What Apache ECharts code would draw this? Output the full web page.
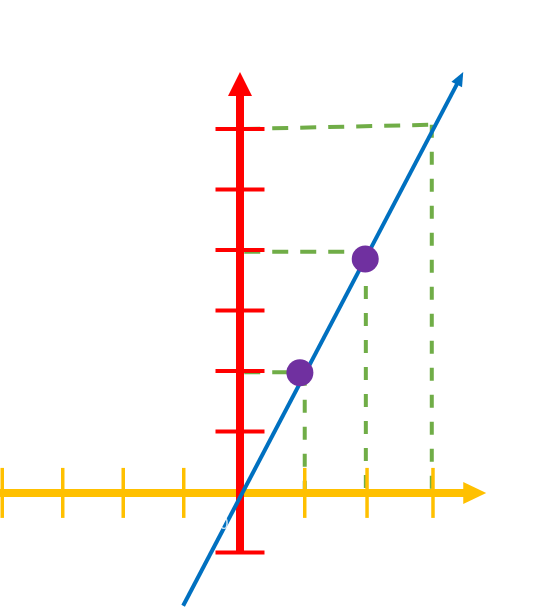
<!DOCTYPE html>
<html><head><meta charset="utf-8">
<script src="https://cdn.jsdelivr.net/npm/echarts@6/dist/echarts.min.js"></script>
<style>html,body{margin:0;padding:0;background:#fff}#c{width:548px;height:609px}</style>
</head><body><div id="c"></div>
<script>
// ---- data (in axis units) ----
const xTicks = [-3.93, -2.93, -1.93, -0.93, 1.07, 2.1, 3.19];
const yTicks = [6, 5, 4, 3, 2, 1, -1];
const xAxisLevel = -0.015;
const xAxisSeg = [[-3.97, xAxisLevel], [4.07, xAxisLevel]];      // start, arrow tip
const yAxisSeg = [[0, -1.02], [0, 6.94]];      // start, arrow tip
const blueSeg = [[-0.94, -1.88], [3.69, 6.94]]; // start, arrow tip
const points = [[0.99, 1.97], [2.07, 3.85]];
const guideH = [
  [[0.07, 1.98], [0.99, 1.98]],
  [[0.07, 3.97], [2.07, 3.97]],
  [[0.07, 6.0], [3.17, 6.07]]
];
const guideV = [
  [[1.07, 1.97], [1.07, 0]],
  [[2.08, 3.85], [2.08, 0]],
  [[3.17, 6.07], [3.17, -0.08]]
];
const originLabel = '0';

// ---- styles ----
const YELLOW = '#FFC000', RED = '#FF0000', BLUE = '#0070C0', GREEN = '#70AD47', PURPLE = '#7030A0';

function arrowSeries(seg, color, width, headLen, headW, z) {
  return {
    type: 'custom', coordinateSystem: 'cartesian2d', z: z, silent: true, clip: false,
    data: [[seg[0][0], seg[0][1], seg[1][0], seg[1][1]]],
    renderItem: function (params, api) {
      const a = api.coord([api.value(0), api.value(1)]);
      const b = api.coord([api.value(2), api.value(3)]);
      const dx = b[0] - a[0], dy = b[1] - a[1], L = Math.hypot(dx, dy);
      const ux = dx / L, uy = dy / L, nx = -uy, ny = ux;
      const base = [b[0] - ux * headLen, b[1] - uy * headLen];
      return {
        type: 'group', children: [
          { type: 'line', shape: { x1: a[0], y1: a[1], x2: base[0] + ux, y2: base[1] + uy },
            style: { stroke: color, lineWidth: width } },
          { type: 'polygon', shape: { points: [b,
              [base[0] + nx * headW / 2, base[1] + ny * headW / 2],
              [base[0] - nx * headW / 2, base[1] - ny * headW / 2]] },
            style: { fill: color } }
        ]
      };
    }
  };
}

function tickSeries(vals, vertical, level, color, width, half, z) {
  return {
    type: 'custom', coordinateSystem: 'cartesian2d', z: z, silent: true, clip: false,
    data: vals.map(v => vertical ? [v, level] : [level, v]),
    renderItem: function (params, api) {
      const p = api.coord([api.value(0), api.value(1)]);
      const shape = vertical
        ? { x1: p[0], y1: p[1] - half, x2: p[0], y2: p[1] + half }
        : { x1: p[0] - half, y1: p[1], x2: p[0] + half, y2: p[1] };
      return { type: 'line', shape: shape, style: { stroke: color, lineWidth: width } };
    }
  };
}

function guide(seg, dash) {
  return {
    type: 'line', data: seg, symbol: 'none', z: 1, silent: true,
    lineStyle: { color: GREEN, width: 4, type: dash, opacity: 1 }
  };
}

const series = [];
guideH.forEach(s => series.push(guide(s, [16, 12])));
guideV.forEach(s => series.push(guide(s, [13, 14])));
series.push(arrowSeries(xAxisSeg, YELLOW, 8, 23, 22, 2));
series.push(tickSeries(xTicks, true, xAxisLevel, YELLOW, 3.5, 25, 2));
series.push(arrowSeries(yAxisSeg, RED, 8, 24, 24, 3));
series.push(tickSeries(yTicks, false, 0, RED, 4, 24.5, 3));
series.push(arrowSeries(blueSeg, BLUE, 4, 14, 12, 4));
series.push({
  type: 'scatter', data: points, symbolSize: 27, z: 5, silent: true,
  itemStyle: { color: PURPLE, opacity: 1 }
});
series.push({
  type: 'scatter', data: [[0, 0]], symbolSize: 0, z: 6, silent: true,
  label: { show: true, formatter: originLabel, color: '#fff', fontSize: 16,
           fontFamily: 'Liberation Sans', offset: [-16, 33] }
});

const chart = echarts.init(document.getElementById('c'), null, { renderer: 'canvas' });
chart.setOption({
  animation: false,
  backgroundColor: '#fff',
  grid: { left: 0, right: 0, top: 0, bottom: 0, containLabel: false },
  xAxis: { type: 'value', min: -3.967, max: 5.091, show: false },
  yAxis: { type: 'value', min: -1.934, max: 8.132, show: false },
  series: series
});
</script></body></html>
